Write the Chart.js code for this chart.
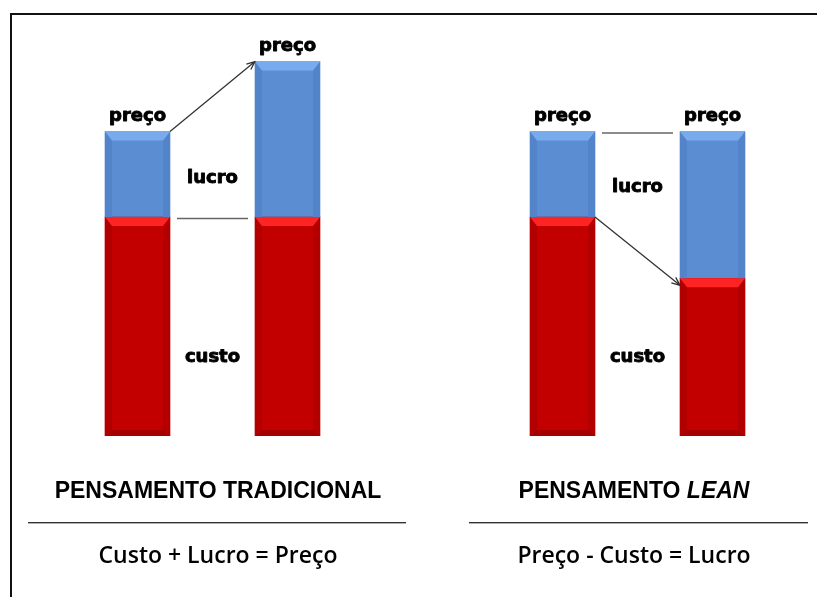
<!DOCTYPE html>
<html>
<head>
  <title>Pensamento Tradicional x Lean</title>
  <script src="https://cdn.jsdelivr.net/npm/chart.js@4.4.0/dist/chart.umd.min.js"></script>
  <style>
    body { margin: 0; background: #fff; }
    #page { position: relative; width: 817px; height: 597px; overflow: hidden; background: #fff; }
    .frame { position: absolute; left: 10px; top: 13px; width: 900px; height: 700px; border: 2px solid #111; }
    .panel { position: absolute; top: 0; height: 597px; }
    .titulo {
      position: absolute; top: 479px; transform: translateX(-50%);
      font: bold 23px 'Liberation Sans', Arial, sans-serif; line-height: 23px;
      white-space: nowrap; color: #000;
    }
    .formula {
      position: absolute; top: 543px; transform: translateX(-50%);
      font: 600 23px 'Open Sans', sans-serif; line-height: 23px;
      white-space: nowrap; color: #000;
    }
    .linha { position: absolute; top: 522px; height: 1px; background: #333; box-shadow: 0 1px 0 #b0b0b0; }
  </style>
</head>
<body>
<div id="page">
  <div class="frame"></div>
  <div class="panel" style="left:0;width:408px"><canvas id="tradicional"></canvas></div>
  <div class="panel" style="left:408px;width:409px"><canvas id="lean"></canvas></div>

  <div class="titulo" style="left:218px">PENSAMENTO TRADICIONAL</div>
  <div class="linha" style="left:28px;width:378px"></div>
  <div class="formula" style="left:218px">Custo + Lucro = Preço</div>

  <div class="titulo" style="left:634px">PENSAMENTO <i>LEAN</i></div>
  <div class="linha" style="left:469px;width:339px"></div>
  <div class="formula" style="left:634px">Preço - Custo = Lucro</div>
</div>

<script>
// dados (unidades relativas)
const categoriasTradicional = ['antes', 'depois'];
const custoTradicional = [100, 100];
const lucroTradicional = [39, 71];

const categoriasLean = ['antes', 'depois'];
const custoLean = [100, 72];
const lucroLean = [39, 67];

const nomesSeries = ['custo', 'lucro'];
const rotuloTopo = 'preço';

const AZUL = { main: '#5b8dd3', top: '#78abee', side: '#5384ca', bottom: null };
const VERMELHO = { main: '#c30000', top: '#ff2424', side: '#b20000', bottom: '#a40000' };

function poly(ctx, pts, color) {
  ctx.beginPath();
  ctx.moveTo(pts[0][0], pts[0][1]);
  for (let i = 1; i < pts.length; i++) ctx.lineTo(pts[i][0], pts[i][1]);
  ctx.closePath();
  ctx.fillStyle = color;
  ctx.fill();
}

// efeito de bisel nas barras
const bevelPlugin = {
  id: 'bevel',
  afterDatasetsDraw(chart) {
    const ctx = chart.ctx;
    chart.data.datasets.forEach((ds, di) => {
      const bv = ds.bevel;
      chart.getDatasetMeta(di).data.forEach(bar => {
        const p = bar.getProps(['x', 'y', 'base', 'width'], true);
        const L = p.x - p.width / 2, R = p.x + p.width / 2;
        const T = Math.min(p.y, p.base), B = Math.max(p.y, p.base);
        const b = 9, s = 7, bb = bv.bottom ? 6 : 0;
        ctx.save();
        poly(ctx, [[L, T], [L + s, T + b], [L + s, B - bb], [L, B]], bv.side);
        poly(ctx, [[R, T], [R - s, T + b], [R - s, B - bb], [R, B]], bv.side);
        poly(ctx, [[L, T], [R, T], [R - s, T + b], [L + s, T + b]], bv.top);
        if (bv.bottom) poly(ctx, [[L, B], [R, B], [R - s, B - bb], [L + s, B - bb]], bv.bottom);
        ctx.restore();
      });
    });
  }
};

function seta(ctx, x1, y1, x2, y2) {
  ctx.beginPath();
  ctx.moveTo(x1, y1);
  ctx.lineTo(x2, y2);
  const a = Math.atan2(y2 - y1, x2 - x1);
  const h = 9;
  ctx.moveTo(x2 - h * Math.cos(a - 0.4), y2 - h * Math.sin(a - 0.4));
  ctx.lineTo(x2, y2);
  ctx.lineTo(x2 - h * Math.cos(a + 0.4), y2 - h * Math.sin(a + 0.4));
  ctx.stroke();
}

function rotulo(ctx, txt, x, y) {
  ctx.strokeText(txt, x, y);
  ctx.fillText(txt, x, y);
}

// rótulos, seta e linha de ligação
const anotacoesPlugin = {
  id: 'anotacoes',
  afterDraw(chart, args, o) {
    const ctx = chart.ctx;
    const y = chart.scales.y;
    const custo = chart.getDatasetMeta(0).data;
    const lucro = chart.getDatasetMeta(1).data;
    const w = custo[0].width / 2;
    const meio = (custo[0].x + custo[1].x) / 2;
    ctx.save();
    ctx.font = 'bold 18px "DejaVu Sans"';
    ctx.fillStyle = '#000';
    ctx.strokeStyle = '#000';
    ctx.lineWidth = 0.9;
    ctx.lineJoin = 'round';
    ctx.textAlign = 'center';
    ctx.textBaseline = 'alphabetic';
    lucro.forEach(bar => rotulo(ctx, rotuloTopo, bar.x, bar.y - 11));
    rotulo(ctx, nomesSeries[1], meio, y.getPixelForValue(o.yLucro));
    rotulo(ctx, nomesSeries[0], meio, y.getPixelForValue(o.yCusto));

    const sb = chart.getDatasetMeta(o.seta).data;
    ctx.strokeStyle = '#333';
    ctx.lineWidth = 1.3;
    seta(ctx, sb[0].x + w, sb[0].y, sb[1].x - w, sb[1].y + o.setaDy);

    const lb = chart.getDatasetMeta(o.linha).data;
    ctx.strokeStyle = '#666';
    ctx.lineWidth = 1.5;
    ctx.beginPath();
    ctx.moveTo(lb[0].x + w + 7, lb[0].y + 1.5);
    ctx.lineTo(lb[1].x - w - 7, lb[0].y + 1.5);
    ctx.stroke();
    ctx.restore();
  }
};

function painel(id, categorias, custo, lucro, padding, anot) {
  return new Chart(id, {
    type: 'bar',
    data: {
      labels: categorias,
      datasets: [
        { label: nomesSeries[0], data: custo, backgroundColor: VERMELHO.main, bevel: VERMELHO, barThickness: 65 },
        { label: nomesSeries[1], data: lucro, backgroundColor: AZUL.main, bevel: AZUL, barThickness: 65 }
      ]
    },
    options: {
      responsive: true,
      maintainAspectRatio: false,
      animation: false,
      layout: { padding: padding },
      scales: {
        x: { stacked: true, display: false },
        y: { stacked: true, display: false, min: 0, max: 180 }
      },
      plugins: {
        legend: { display: false },
        tooltip: { enabled: false },
        anotacoes: anot
      }
    },
    plugins: [bevelPlugin, anotacoesPlugin]
  });
}

painel('tradicional', categoriasTradicional, custoTradicional, lucroTradicional,
  { left: 62.5, right: 45.5, top: 41.8, bottom: 161 },
  { yLucro: 115.5, yCusto: 34, seta: 1, setaDy: 0, linha: 0 });

painel('lean', categoriasLean, custoLean, lucroLean,
  { left: 79.5, right: 29.5, top: 41.8, bottom: 161 },
  { yLucro: 111.4, yCusto: 34, seta: 0, setaDy: 7, linha: 1 });
</script>
</body>
</html>
